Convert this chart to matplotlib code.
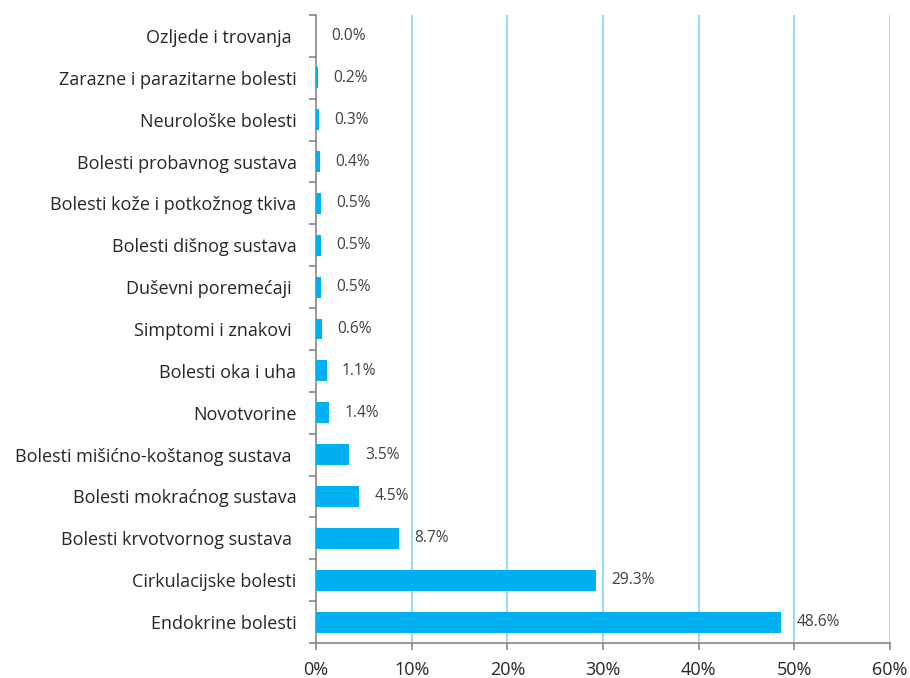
import numpy as np
import matplotlib.pyplot as plt
from matplotlib.ticker import FixedLocator, FuncFormatter

categories = ['Endokrine bolesti', 'Cirkulacijske bolesti',
              'Bolesti krvotvornog sustava ', 'Bolesti mokraćnog sustava',
              'Bolesti mišićno-koštanog sustava ', 'Novotvorine',
              'Bolesti oka i uha', 'Simptomi i znakovi ', 'Duševni poremećaji ',
              'Bolesti dišnog sustava', 'Bolesti kože i potkožnog tkiva',
              'Bolesti probavnog sustava', 'Neurološke bolesti',
              'Zarazne i parazitarne bolesti', 'Ozljede i trovanja ']
values = [48.6, 29.3, 8.7, 4.5, 3.5, 1.4, 1.1, 0.6, 0.5, 0.5, 0.5, 0.4, 0.3, 0.2, 0.0]
xticks = [0, 10, 20, 30, 40, 50, 60]

plt.rcParams['font.family'] = ['Open Sans', 'DejaVu Sans']

fig = plt.figure(figsize=(9.10, 6.78), dpi=100)
ax = fig.add_axes([316 / 910, 35 / 678, 574 / 910, 628 / 678])

y = np.arange(len(categories))
ax.barh(y, values, height=0.5, color='#00B0F0', zorder=3)

for yi, v in zip(y, values):
    ax.text(v + 1.6, yi, '%.1f%%' % v, va='center', ha='left',
            fontsize=11.2, color='#404040', zorder=4)

ax.set_xlim(0, 60)
ax.set_ylim(-0.5, len(categories) - 0.5)
ax.set_xticks(xticks)
ax.xaxis.set_major_formatter(FuncFormatter(lambda v, p: '%d%%' % v))
ax.set_yticks(y)
ax.set_yticklabels(categories)
ax.yaxis.set_minor_locator(FixedLocator(np.arange(-0.5, len(categories), 1.0)))

ax.tick_params(axis='y', which='major', length=0, pad=14, labelsize=13,
               labelcolor='#262626')
ax.tick_params(axis='y', which='minor', length=5, color='#868686', width=1.2)
ax.tick_params(axis='x', which='major', length=5, color='#868686', width=1.2,
               labelsize=13, labelcolor='#262626', pad=8)

ax.grid(axis='x', color='#8AD8FF', linewidth=1.3, zorder=0)
for g in ax.get_xgridlines()[:1]:
    g.set_visible(False)

for side in ['top', 'right']:
    ax.spines[side].set_visible(False)
for side in ['left', 'bottom']:
    ax.spines[side].set_color('#868686')
    ax.spines[side].set_linewidth(1.2)

fig.savefig('out.png', dpi=100)
